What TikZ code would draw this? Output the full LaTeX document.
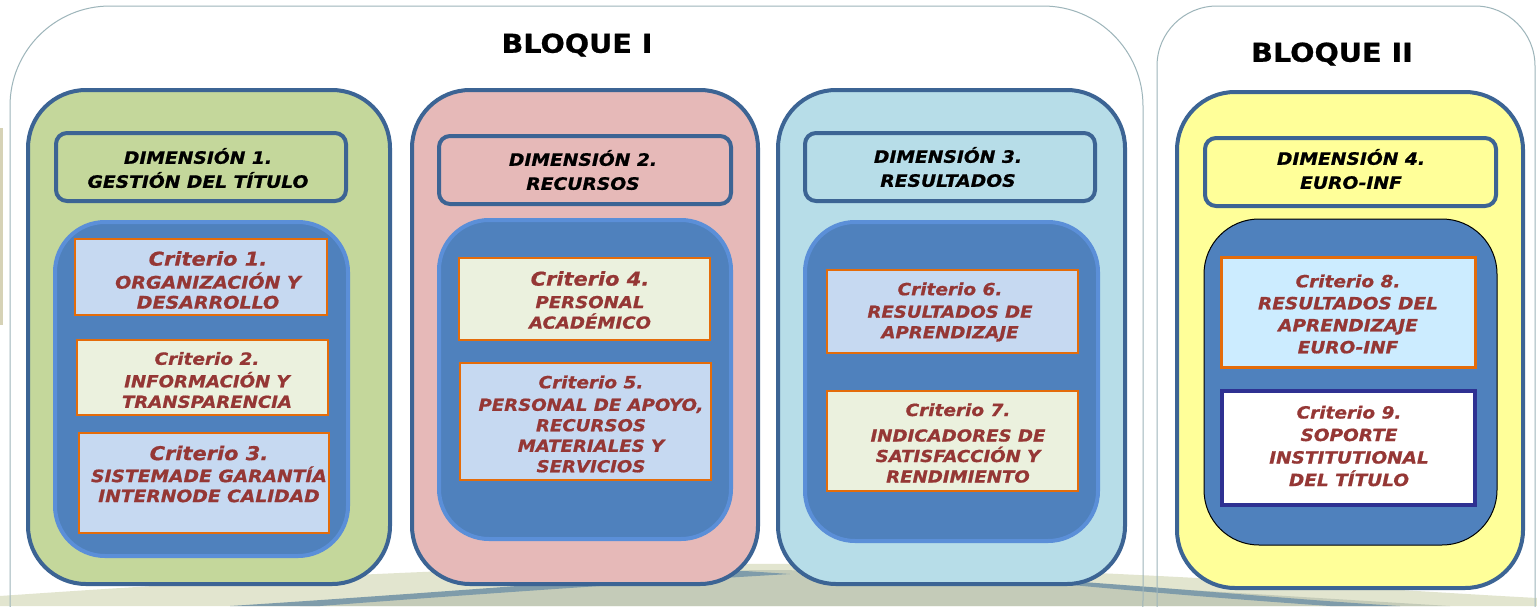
\documentclass[tikz,border=0pt]{standalone}
\usepackage{fontspec}
\newfontfamily\vfont[FakeStretch=1.1,BoldFeatures={FakeBold=0.8},BoldItalicFeatures={FakeBold=0.8}]{DejaVu Sans}
\definecolor{dimblue}{HTML}{3C6494}
\definecolor{innerblue}{HTML}{4F81BD}
\definecolor{innerline}{HTML}{5B8FD8}
\definecolor{critred}{HTML}{953735}
\definecolor{critorange}{HTML}{E46C0A}
\definecolor{lblue}{HTML}{C6D9F1}
\definecolor{lgreen}{HTML}{EBF1DE}
\definecolor{cyanb}{HTML}{CCECFF}
\definecolor{navyb}{HTML}{2E3192}
\definecolor{gfill}{HTML}{C4D79B}
\definecolor{pfill}{HTML}{E6B9B8}
\definecolor{bfill}{HTML}{B7DDE8}
\definecolor{yfill}{HTML}{FFFF99}
\definecolor{blockline}{HTML}{9DB5BA}
\definecolor{swbeige}{HTML}{E2E5CF}
\definecolor{swgray}{HTML}{C4CBB8}
\definecolor{swblue}{HTML}{7F9CAA}
\definecolor{barbeige}{HTML}{D6D2B6}
\tikzset{
  blockbox/.style={draw=blockline, line width=1pt, fill=white, rounded corners=#1, inner sep=0},
  dimbox/.style={draw=dimblue, line width=4pt, rounded corners=58pt, inner sep=0},
  headbox/.style={draw=dimblue, line width=4pt, rounded corners=11pt, inner sep=0},
  innerbox/.style={fill=innerblue, draw=innerline, line width=4pt, rounded corners=50pt, inner sep=0},
  critbox/.style={draw=critorange, line width=2pt, inner sep=0},
  crittext/.style={text=critred, align=center, inner sep=0,
    font=\vfont\bfseries\itshape\fontsize{16.5}{20.5}\selectfont},
  headtext/.style={text=black, align=center, inner sep=0,
    font=\vfont\bfseries\itshape\fontsize{17}{24}\selectfont},
  titletext/.style={text=black, inner sep=0, font=\vfont\bfseries\fontsize{26}{30}\selectfont}
}
\newcommand{\crittitle}[2]{{\fontsize{#1}{#1}\selectfont #2}}
\begin{document}
\begin{tikzpicture}[x=1pt,y=-1pt]
\useasboundingbox (0,0) rectangle (1537,606);
\clip (0,0) rectangle (1537,606);
\fill[white] (0,0) rectangle (1537,606);
% background swoosh
\fill[swbeige] (0,606) -- (0,596) .. controls (300,575) and (600,562) .. (800,564) .. controls (1100,568) and (1350,588) .. (1537,598) -- (1537,606) -- cycle;
\fill[swgray] (300,606) .. controls (500,590) and (650,572) .. (760,570) .. controls (900,570) and (1100,585) .. (1450,606) -- cycle;
\fill[swblue] (230,606) .. controls (450,592) and (650,575) .. (745,571) -- (790,574) .. controls (650,582) and (450,596) .. (320,606) -- cycle;
\fill[swblue] (990,577) -- (1040,579) .. controls (1200,590) and (1300,600) .. (1400,606) -- (1330,606) .. controls (1200,597) and (1100,588) .. (990,577) -- cycle;
\fill[barbeige] (0,128) rectangle (3,325);
% blocks
\node[blockbox=100pt, fill=none, minimum width=1133pt, minimum height=694pt] (b1) at (576.5,353) {};
\node[blockbox=60pt, fill=none, minimum width=378pt, minimum height=694pt] (b2) at (1346,353) {};
\node[titletext] (bt1) at (577,45) {BLOQUE I};
\node[titletext] (bt2) at (1332,54) {BLOQUE II};
% dimension containers
\node[dimbox, fill=gfill, minimum width=362pt, minimum height=494pt] (d1) at (209,337) {};
\node[dimbox, fill=pfill, minimum width=346pt, minimum height=494pt] (d2) at (585,337) {};
\node[dimbox, fill=bfill, minimum width=347pt, minimum height=494pt] (d3) at (951.5,337) {};
\node[dimbox, fill=yfill, minimum width=346pt, minimum height=496pt] (d4) at (1350,340) {};
% headers
\node[headbox, fill=gfill, minimum width=290pt, minimum height=68pt] (h1) at (201,167) {};
\node[headbox, fill=pfill, minimum width=292pt, minimum height=68pt] (h2) at (585,170) {};
\node[headbox, fill=bfill, minimum width=290pt, minimum height=68pt] (h3) at (950,167) {};
\node[headbox, fill=yfill, minimum width=291pt, minimum height=68pt] (h4) at (1350.5,172) {};
\node[headtext] (ht1) at (198,168) {DIMENSIÓN 1.\\GESTIÓN DEL TÍTULO};
\node[headtext] (ht2) at (583,170) {DIMENSIÓN 2.\\RECURSOS};
\node[headtext] (ht3) at (948,167) {DIMENSIÓN 3.\\RESULTADOS};
\node[headtext] (ht4) at (1351,169) {DIMENSIÓN 4.\\EURO-INF};
% inner blue
\node[innerbox, minimum width=293pt, minimum height=334pt] (i1) at (201.5,389) {};
\node[innerbox, minimum width=292pt, minimum height=319pt] (i2) at (585,379.5) {};
\node[innerbox, minimum width=293pt, minimum height=319pt] (i3) at (951.5,381.5) {};
\node[innerbox, draw=black, line width=1pt, rounded corners=55pt, minimum width=293pt, minimum height=326pt] (i4) at (1350.5,382) {};
% criteria boxes
\node[critbox, fill=lblue, minimum width=252pt, minimum height=76pt] (c1) at (201,277) {};
\node[critbox, fill=lgreen, minimum width=251pt, minimum height=75pt] (c2) at (202.5,377.5) {};
\node[critbox, fill=lblue, minimum width=250pt, minimum height=100pt] (c3) at (204,483) {};
\node[critbox, fill=lgreen, minimum width=251pt, minimum height=82pt] (c4) at (584.5,299) {};
\node[critbox, fill=lblue, minimum width=251pt, minimum height=117pt] (c5) at (585.5,421.5) {};
\node[critbox, fill=lblue, minimum width=251pt, minimum height=83pt] (c6) at (952.5,311.5) {};
\node[critbox, fill=lgreen, minimum width=251pt, minimum height=100pt] (c7) at (952.5,441) {};
\node[critbox, fill=cyanb, line width=3pt, minimum width=254pt, minimum height=110pt] (c8) at (1348,312) {};
\node[critbox, fill=white, draw=navyb, line width=3.5pt, minimum width=253pt, minimum height=114pt] (c9) at (1348.5,448) {};
% criteria texts
\node[crittext, font=\vfont\bfseries\itshape\fontsize{17.3}{20}\selectfont] (t1) at (208,280) {\crittitle{19}{Criterio 1.}\\[3pt]ORGANIZACIÓN Y\\DESARROLLO};
\node[crittext] (t2) at (207,380) {\crittitle{16.8}{Criterio 2.}\\[2pt]INFORMACIÓN Y\\TRANSPARENCIA};
\node[crittext, font=\vfont\bfseries\itshape\fontsize{17}{20}\selectfont] (t3) at (209,474) {\crittitle{19}{Criterio 3.}\\[2pt]SISTEMADE GARANTÍA\\INTERNODE CALIDAD};
\node[crittext] (t4) at (590,300) {\crittitle{19}{Criterio 4.}\\[2pt]PERSONAL\\ACADÉMICO};
\node[crittext] (t5) at (591,424) {\crittitle{16.8}{Criterio 5.}\\[2pt]PERSONAL DE APOYO,\\RECURSOS\\MATERIALES Y\\SERVICIOS};
\node[crittext] (t6) at (950,312) {\crittitle{16.8}{Criterio 6.}\\[2pt]RESULTADOS DE\\APRENDIZAJE};
\node[crittext] (t7) at (958,443) {\crittitle{16.8}{Criterio 7.}\\[5pt]INDICADORES DE\\SATISFACCIÓN Y\\RENDIMIENTO};
\node[crittext, font=\vfont\bfseries\itshape\fontsize{16.8}{22}\selectfont] (t8) at (1348,314) {\crittitle{16.8}{Criterio 8.}\\RESULTADOS DEL\\APRENDIZAJE\\EURO-INF};
\node[crittext, font=\vfont\bfseries\itshape\fontsize{16.8}{22.5}\selectfont] (t9) at (1349,446) {\crittitle{16.8}{Criterio 9.}\\SOPORTE\\INSTITUTIONAL\\DEL TÍTULO};
\end{tikzpicture}
\end{document}
